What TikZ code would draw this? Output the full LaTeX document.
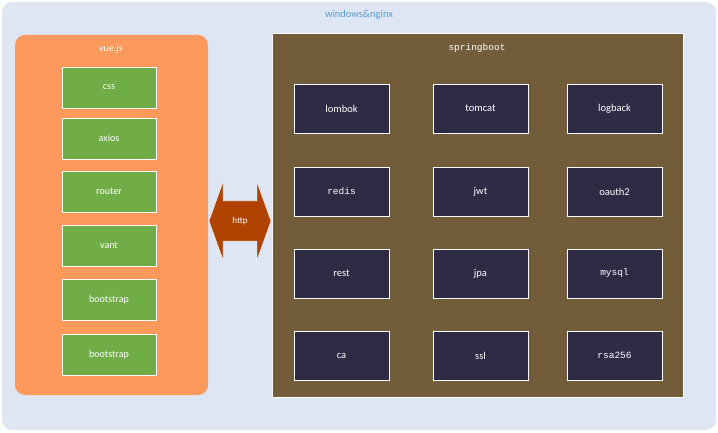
\documentclass[tikz,border=0pt]{standalone}
\usepackage{fontspec}
\setmainfont{Carlito}
\newfontfamily\monofont{Liberation Mono}
\usepackage{tikz}
\usetikzlibrary{positioning}
\definecolor{bgblue}{HTML}{DEE6F3}
\definecolor{vueorange}{HTML}{FD9A5B}
\definecolor{libgreen}{HTML}{70AD47}
\definecolor{bootbrown}{HTML}{725C3A}
\definecolor{beandark}{HTML}{2F2B44}
\definecolor{httpred}{HTML}{B04300}
\definecolor{titleblue}{HTML}{5B9BD5}
\tikzset{
  lib/.style={draw=white,fill=libgreen,text=white,minimum width=94pt,minimum height=41pt,font=\fontsize{10}{12}\selectfont},
  bean/.style={draw=white,fill=beandark,text=white,minimum width=95pt,minimum height=49pt,font=\fontsize{10.5}{12}\selectfont},
  mono/.style={font=\monofont\fontsize{9.5}{12}\selectfont}
}
\begin{document}
\begin{tikzpicture}[x=1pt,y=-1pt]
  \useasboundingbox (0,0) rectangle (718,433);
  \fill[bgblue,rounded corners=10pt] (2,2) rectangle (716,430);
  \node[text=titleblue,font=\fontsize{10.5}{12}\selectfont] (title) at (359,15) {windows\&nginx};
  % front end
  \fill[vueorange,rounded corners=10pt] (15,35) rectangle (208,395);
  \node[text=white,font=\fontsize{10}{12}\selectfont] (vue) at (111,49) {vue.js};
  \node[lib] (css) at (109,87.5) {css};
  \node[lib] (axios) at (109,138.5) {axios};
  \node[lib] (router) at (109,191.5) {router};
  \node[lib] (vant) at (109,245.5) {vant};
  \node[lib] (boot1) at (109,299.5) {bootstrap};
  \node[lib] (boot2) at (109,354.5) {bootstrap};
  % back end
  \draw[white,fill=bootbrown] (272,33) rectangle (683,397);
  \node[text=white,mono] (spring) at (477,48) {springboot};
  \node[bean] (lombok) at (341.5,108.5) {lombok};
  \node[bean] (tomcat) at (480.5,108.5) {tomcat};
  \node[bean] (logback) at (614.5,108.5) {logback};
  \node[bean,mono] (redis) at (341.5,191.5) {redis};
  \node[bean] (jwt) at (480.5,191.5) {jwt};
  \node[bean] (oauth) at (614.5,191.5) {oauth2};
  \node[bean] (rest) at (341.5,273.5) {rest};
  \node[bean] (jpa) at (480.5,273.5) {jpa};
  \node[bean,mono] (mysql) at (614.5,273.5) {mysql};
  \node[bean] (ca) at (341.5,355.5) {ca};
  \node[bean] (ssl) at (480.5,355.5) {ssl};
  \node[bean,mono] (rsa) at (614.5,355.5) {rsa256};
  % link
  \fill[httpred,draw=white] (209,221) -- (223,182) -- (223,201) -- (257,201) -- (257,182)
    -- (271,221) -- (257,260) -- (257,241) -- (223,241) -- (223,260) -- cycle;
  \node[text=white,font=\fontsize{9}{11}\selectfont] (http) at (240,221) {http};
\end{tikzpicture}
\end{document}
